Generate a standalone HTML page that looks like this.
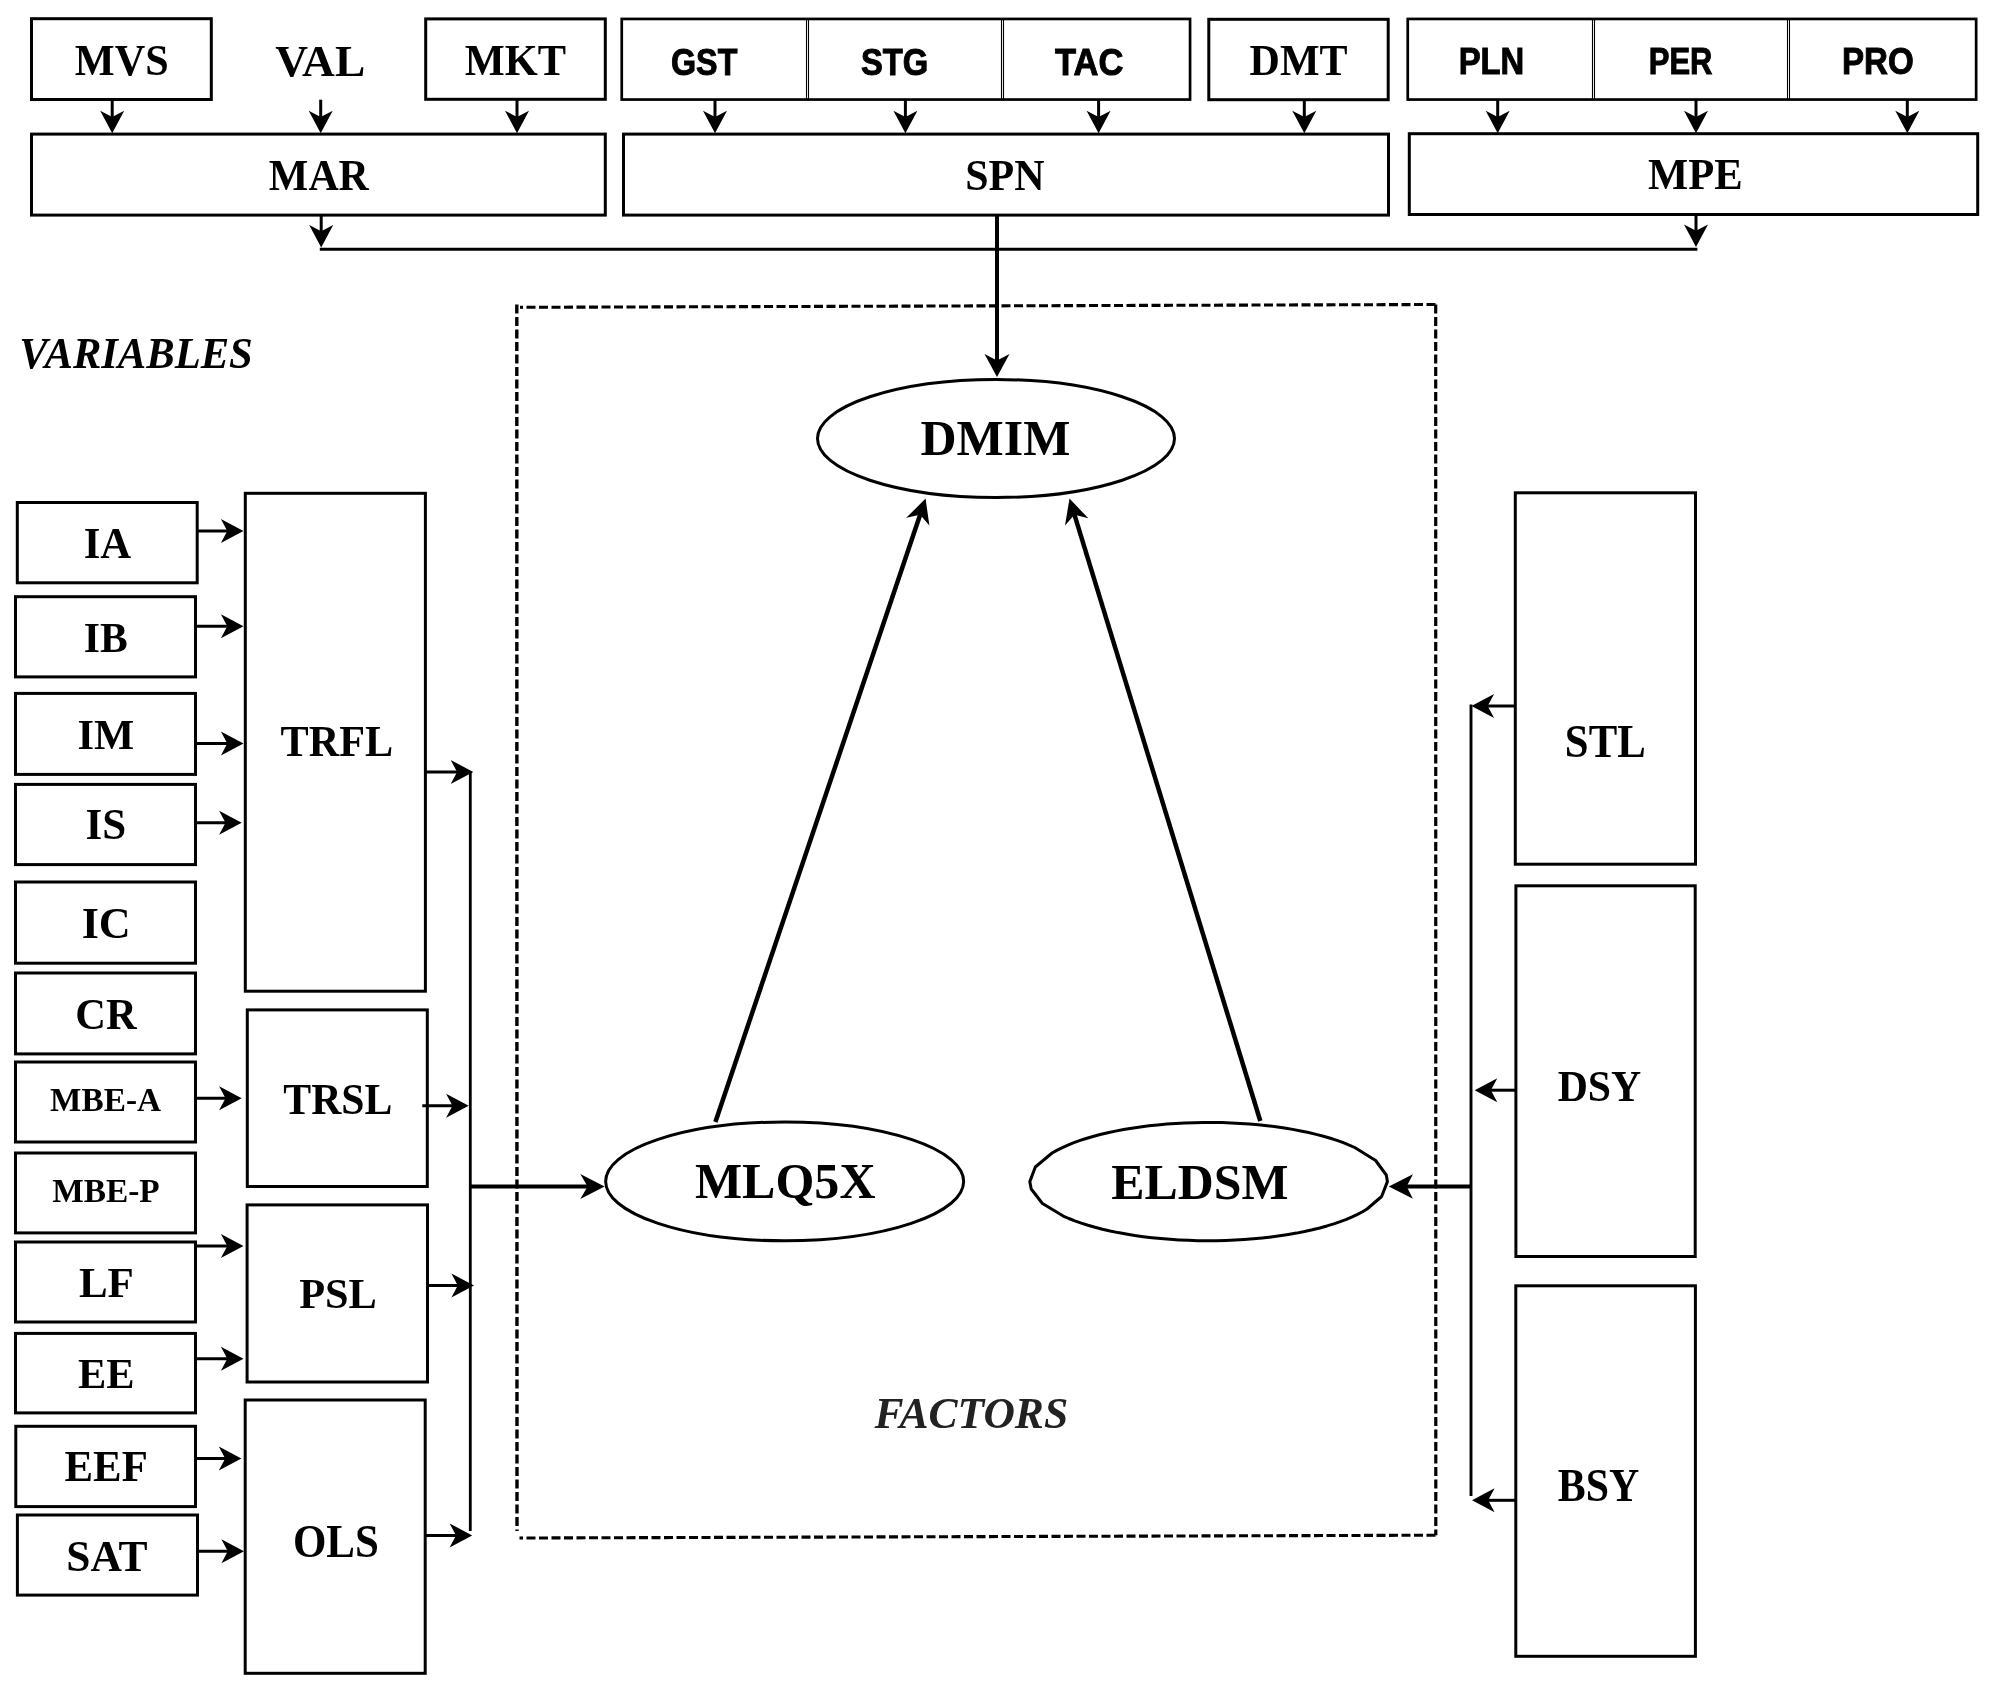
<!DOCTYPE html>
<html><head><meta charset="utf-8"><style>html,body{margin:0;padding:0;background:#fff;overflow:hidden}svg{display:block;will-change:transform}</style></head>
<body><svg width="2001" height="1694" viewBox="0 0 2001 1694">
<rect width="2001" height="1694" fill="#fff"/>
<rect x="31.5" y="18.7" width="179.8" height="80.8" fill="none" stroke="#000" stroke-width="3"/>
<rect x="425.7" y="18.9" width="179.6" height="80.4" fill="none" stroke="#000" stroke-width="3"/>
<rect x="621.75" y="18.95" width="568.3" height="80.6" fill="none" stroke="#000" stroke-width="2.7"/>
<line x1="806.5" y1="19" x2="806.5" y2="99.5" stroke="#000" stroke-width="1.1"/>
<line x1="808.5" y1="19" x2="808.5" y2="99.5" stroke="#000" stroke-width="1.1"/>
<line x1="1001.5" y1="19" x2="1001.5" y2="99.5" stroke="#000" stroke-width="1.1"/>
<line x1="1003.5" y1="19" x2="1003.5" y2="99.5" stroke="#000" stroke-width="1.1"/>
<rect x="1208.8" y="19.3" width="179.4" height="80.4" fill="none" stroke="#000" stroke-width="3"/>
<rect x="1407.75" y="18.95" width="568.4" height="80.6" fill="none" stroke="#000" stroke-width="2.7"/>
<line x1="1592.5" y1="19" x2="1592.5" y2="99.5" stroke="#000" stroke-width="1.1"/>
<line x1="1594.5" y1="19" x2="1594.5" y2="99.5" stroke="#000" stroke-width="1.1"/>
<line x1="1787.5" y1="19" x2="1787.5" y2="99.5" stroke="#000" stroke-width="1.1"/>
<line x1="1789.5" y1="19" x2="1789.5" y2="99.5" stroke="#000" stroke-width="1.1"/>
<rect x="31.5" y="134.1" width="573.8" height="81" fill="none" stroke="#000" stroke-width="3"/>
<rect x="623.5" y="134.1" width="765" height="81" fill="none" stroke="#000" stroke-width="3"/>
<rect x="1409.3" y="133.7" width="568.4" height="80.8" fill="none" stroke="#000" stroke-width="3"/>
<line x1="112.2" y1="100" x2="112.2" y2="120.87" stroke="#000" stroke-width="3"/><path d="M112.2 133.3L100.2 110.7L112.2 117.1L124.2 110.7Z" fill="#000"/>
<line x1="517" y1="100" x2="517" y2="120.87" stroke="#000" stroke-width="3"/><path d="M517 133.3L505 110.7L517 117.1L529 110.7Z" fill="#000"/>
<line x1="715" y1="100" x2="715" y2="120.87" stroke="#000" stroke-width="3"/><path d="M715 133.3L703 110.7L715 117.1L727 110.7Z" fill="#000"/>
<line x1="905.4" y1="100" x2="905.4" y2="120.87" stroke="#000" stroke-width="3"/><path d="M905.4 133.3L893.4 110.7L905.4 117.1L917.4 110.7Z" fill="#000"/>
<line x1="1098.6" y1="100" x2="1098.6" y2="120.87" stroke="#000" stroke-width="3"/><path d="M1098.6 133.3L1086.6 110.7L1098.6 117.1L1110.6 110.7Z" fill="#000"/>
<line x1="1304.3" y1="100" x2="1304.3" y2="120.87" stroke="#000" stroke-width="3"/><path d="M1304.3 133.3L1292.3 110.7L1304.3 117.1L1316.3 110.7Z" fill="#000"/>
<line x1="1497.7" y1="100" x2="1497.7" y2="120.87" stroke="#000" stroke-width="3"/><path d="M1497.7 133.3L1485.7 110.7L1497.7 117.1L1509.7 110.7Z" fill="#000"/>
<line x1="1696" y1="100" x2="1696" y2="120.87" stroke="#000" stroke-width="3"/><path d="M1696 133.3L1684 110.7L1696 117.1L1708 110.7Z" fill="#000"/>
<line x1="1907.3" y1="100" x2="1907.3" y2="120.87" stroke="#000" stroke-width="3"/><path d="M1907.3 133.3L1895.3 110.7L1907.3 117.1L1919.3 110.7Z" fill="#000"/>
<line x1="320.7" y1="99.7" x2="320.7" y2="120.87" stroke="#000" stroke-width="3"/><path d="M320.7 133.3L308.7 110.7L320.7 117.1L332.7 110.7Z" fill="#000"/>
<line x1="321.2" y1="216" x2="321.2" y2="235.07" stroke="#000" stroke-width="3"/><path d="M321.2 247.5L309.2 224.9L321.2 231.3L333.2 224.9Z" fill="#000"/>
<line x1="1696" y1="215.5" x2="1696" y2="234.57" stroke="#000" stroke-width="3"/><path d="M1696 247L1684 224.4L1696 230.8L1708 224.4Z" fill="#000"/>
<line x1="319.8" y1="249.3" x2="1697.4" y2="249.3" stroke="#000" stroke-width="2.9"/>
<line x1="997" y1="215.5" x2="997" y2="364.35" stroke="#000" stroke-width="4"/><path d="M997 377L984.5 354L997 360.5L1009.5 354Z" fill="#000"/>
<path d="M516.8 304.5L517 1531" stroke-width="3.4" stroke-dasharray="9 3.5" fill="none" stroke="#000"/>
<path d="M526.5 307.3L1435.7 304.5" stroke-width="3.1" stroke-dasharray="9 3.5" fill="none" stroke="#000"/>
<path d="M520 307.3L523 307.3" stroke-width="3.1" fill="none" stroke="#000"/>
<path d="M1435.7 304.5L1435.8 1535.2" stroke-width="3.2" stroke-dasharray="9 3.5" fill="none" stroke="#000"/>
<path d="M526.5 1538L1435.8 1535.2" stroke-width="3.1" stroke-dasharray="9 3.5" fill="none" stroke="#000"/>
<path d="M519.5 1538L523 1538" stroke-width="3.1" fill="none" stroke="#000"/>
<ellipse cx="996" cy="438.5" rx="178.5" ry="59" fill="none" stroke="#000" stroke-width="3"/>
<ellipse cx="784.65" cy="1181.4" rx="179" ry="59.4" fill="none" stroke="#000" stroke-width="3"/>
<polygon points="1367.05,1209 1381.63,1196.51 1387.4,1181.6 1386.29,1175.01 1375.64,1160.5 1354.71,1147.5 1349.17,1145.04 1343.25,1142.68 1336.97,1140.43 1330.34,1138.28 1323.39,1136.25 1316.13,1134.34 1308.58,1132.56 1300.76,1130.91 1292.69,1129.4 1284.4,1128.03 1275.9,1126.8 1267.22,1125.72 1258.38,1124.79 1249.41,1124.01 1240.33,1123.39 1231.17,1122.92 1221.94,1122.61 1212.68,1122.47 1203.41,1122.47 1194.15,1122.64 1184.93,1122.97 1175.77,1123.46 1166.7,1124.1 1157.75,1124.89 1148.93,1125.84 1140.27,1126.94 1131.8,1128.18 1123.53,1129.57 1115.49,1131.1 1107.7,1132.77 1100.19,1134.56 1092.96,1136.49 1086.05,1138.53 1079.46,1140.69 1073.22,1142.96 1067.35,1145.33 1061.86,1147.81 1056.76,1150.37 1052.07,1153.01 1035.34,1166.99 1029.8,1181.6 1031.21,1189.01 1042.47,1203.47 1063.22,1216.03 1068.85,1218.5 1074.87,1220.86 1081.26,1223.12 1087.99,1225.27 1095.05,1227.29 1102.42,1229.19 1110.08,1230.96 1118.01,1232.6 1126.19,1234.09 1134.59,1235.45 1143.2,1236.65 1151.98,1237.71 1160.92,1238.61 1169.99,1239.35 1179.16,1239.94 1188.41,1240.37 1197.72,1240.64 1207.06,1240.75 1216.41,1240.69 1225.73,1240.48 1235,1240.1 1244.21,1239.57 1253.31,1238.87 1262.3,1238.02 1271.13,1237.01 1279.8,1235.86 1288.27,1234.55 1296.53,1233.1 1304.54,1231.51 1312.29,1229.79 1319.76,1227.93 1326.93,1225.94 1333.77,1223.84 1340.27,1221.62 1346.41,1219.29 1352.17,1216.85 1357.54,1214.32 1362.51,1211.71 1367.05,1209" fill="none" stroke="#000" stroke-width="3" stroke-linejoin="round"/>
<line x1="715.4" y1="1122" x2="921.31" y2="511.32" stroke="#000" stroke-width="4.5"/><path d="M925.6 498.6L929.36 525.62L920.17 514.71L906.24 517.82Z" fill="#000"/>
<line x1="1260.3" y1="1121" x2="1073.43" y2="511.43" stroke="#000" stroke-width="4.5"/><path d="M1069.5 498.6L1088.32 518.35L1074.48 514.85L1064.99 525.5Z" fill="#000"/>
<rect x="17.3" y="502.5" width="179.9" height="80.3" fill="none" stroke="#000" stroke-width="3"/>
<rect x="15.5" y="596.7" width="180" height="80.2" fill="none" stroke="#000" stroke-width="3"/>
<rect x="15.5" y="693.4" width="180" height="81" fill="none" stroke="#000" stroke-width="3"/>
<rect x="15.5" y="784.4" width="180" height="80.2" fill="none" stroke="#000" stroke-width="3"/>
<rect x="15.5" y="882" width="180" height="81.2" fill="none" stroke="#000" stroke-width="3"/>
<rect x="15.5" y="973" width="180" height="80.9" fill="none" stroke="#000" stroke-width="3"/>
<rect x="15.5" y="1062" width="180" height="80" fill="none" stroke="#000" stroke-width="3"/>
<rect x="15.5" y="1153" width="180" height="79.9" fill="none" stroke="#000" stroke-width="3"/>
<rect x="15.5" y="1242" width="180" height="80" fill="none" stroke="#000" stroke-width="3"/>
<rect x="15.5" y="1333.4" width="180" height="79.5" fill="none" stroke="#000" stroke-width="3"/>
<rect x="15.8" y="1426.3" width="179.7" height="80.3" fill="none" stroke="#000" stroke-width="3"/>
<rect x="17.4" y="1515" width="180.1" height="80.1" fill="none" stroke="#000" stroke-width="3"/>
<line x1="197" y1="531" x2="231.07" y2="531" stroke="#000" stroke-width="3"/><path d="M243.5 531L220.9 543L227.3 531L220.9 519Z" fill="#000"/>
<line x1="196" y1="626.2" x2="231.07" y2="626.2" stroke="#000" stroke-width="3"/><path d="M243.5 626.2L220.9 638.2L227.3 626.2L220.9 614.2Z" fill="#000"/>
<line x1="196" y1="743.4" x2="231.07" y2="743.4" stroke="#000" stroke-width="3"/><path d="M243.5 743.4L220.9 755.4L227.3 743.4L220.9 731.4Z" fill="#000"/>
<line x1="196" y1="822.7" x2="229.27" y2="822.7" stroke="#000" stroke-width="3"/><path d="M241.7 822.7L219.1 834.7L225.5 822.7L219.1 810.7Z" fill="#000"/>
<line x1="196" y1="1098.3" x2="229.27" y2="1098.3" stroke="#000" stroke-width="3"/><path d="M241.7 1098.3L219.1 1110.3L225.5 1098.3L219.1 1086.3Z" fill="#000"/>
<line x1="196" y1="1246.1" x2="231.07" y2="1246.1" stroke="#000" stroke-width="3"/><path d="M243.5 1246.1L220.9 1258.1L227.3 1246.1L220.9 1234.1Z" fill="#000"/>
<line x1="196" y1="1358.7" x2="231.07" y2="1358.7" stroke="#000" stroke-width="3"/><path d="M243.5 1358.7L220.9 1370.7L227.3 1358.7L220.9 1346.7Z" fill="#000"/>
<line x1="196" y1="1458.6" x2="228.97" y2="1458.6" stroke="#000" stroke-width="3"/><path d="M241.4 1458.6L218.8 1470.6L225.2 1458.6L218.8 1446.6Z" fill="#000"/>
<line x1="198" y1="1551.3" x2="231.57" y2="1551.3" stroke="#000" stroke-width="3"/><path d="M244 1551.3L221.4 1563.3L227.8 1551.3L221.4 1539.3Z" fill="#000"/>
<rect x="245.3" y="493.3" width="180.1" height="497.9" fill="none" stroke="#000" stroke-width="3"/>
<rect x="247.3" y="1009.9" width="180" height="176.6" fill="none" stroke="#000" stroke-width="3"/>
<rect x="247.1" y="1204.9" width="180.4" height="177.1" fill="none" stroke="#000" stroke-width="3"/>
<rect x="245.2" y="1400" width="180" height="273.3" fill="none" stroke="#000" stroke-width="3"/>
<line x1="426" y1="772" x2="460.87" y2="772" stroke="#000" stroke-width="3"/><path d="M473.3 772L450.7 784L457.1 772L450.7 760Z" fill="#000"/>
<line x1="422.3" y1="1105.8" x2="456.27" y2="1105.8" stroke="#000" stroke-width="3"/><path d="M468.7 1105.8L446.1 1117.8L452.5 1105.8L446.1 1093.8Z" fill="#000"/>
<line x1="428" y1="1285.6" x2="461.57" y2="1285.6" stroke="#000" stroke-width="3"/><path d="M474 1285.6L451.4 1297.6L457.8 1285.6L451.4 1273.6Z" fill="#000"/>
<line x1="426" y1="1535.4" x2="459.77" y2="1535.4" stroke="#000" stroke-width="3"/><path d="M472.2 1535.4L449.6 1547.4L456 1535.4L449.6 1523.4Z" fill="#000"/>
<line x1="470.3" y1="772" x2="470.3" y2="1531" stroke="#000" stroke-width="2.8"/>
<line x1="470.3" y1="1186.4" x2="591.24" y2="1186.4" stroke="#000" stroke-width="4"/><path d="M604.6 1186.4L580.3 1198.9L587.6 1186.4L580.3 1173.9Z" fill="#000"/>
<rect x="1515.3" y="492.8" width="180.2" height="371.4" fill="none" stroke="#000" stroke-width="3"/>
<rect x="1515.9" y="885.8" width="179.3" height="370.7" fill="none" stroke="#000" stroke-width="3"/>
<rect x="1515.8" y="1285.8" width="179.6" height="370.5" fill="none" stroke="#000" stroke-width="3"/>
<line x1="1515" y1="706" x2="1483.93" y2="706" stroke="#000" stroke-width="3"/><path d="M1471.5 706L1494.1 694L1487.7 706L1494.1 718Z" fill="#000"/>
<line x1="1515" y1="1090.2" x2="1487.13" y2="1090.2" stroke="#000" stroke-width="3"/><path d="M1474.7 1090.2L1497.3 1078.2L1490.9 1090.2L1497.3 1102.2Z" fill="#000"/>
<line x1="1515" y1="1500.3" x2="1484.43" y2="1500.3" stroke="#000" stroke-width="3"/><path d="M1472 1500.3L1494.6 1488.3L1488.2 1500.3L1494.6 1512.3Z" fill="#000"/>
<line x1="1471" y1="704.6" x2="1471" y2="1496" stroke="#000" stroke-width="2.9"/>
<line x1="1471" y1="1186.5" x2="1402.06" y2="1186.5" stroke="#000" stroke-width="4"/><path d="M1388.8 1186.5L1412.9 1174.3L1406.7 1186.5L1412.9 1198.7Z" fill="#000"/>
<text transform="matrix(0.4227 0 0 0.4477 74.75 74.70)" font-family="Liberation Serif" font-weight="bold" font-style="normal" font-size="100" fill="#000">MVS</text>
<text transform="matrix(0.4544 0 0 0.4523 275.15 75.60)" font-family="Liberation Serif" font-weight="bold" font-style="normal" font-size="100" fill="#000">VAL</text>
<text transform="matrix(0.4243 0 0 0.4415 464.65 74.50)" font-family="Liberation Serif" font-weight="bold" font-style="normal" font-size="100" fill="#000">MKT</text>
<text transform="matrix(0.4200 0 0 0.4492 1249.56 75.00)" font-family="Liberation Serif" font-weight="bold" font-style="normal" font-size="100" fill="#000">DMT</text>
<text transform="matrix(0.4189 0 0 0.4415 268.86 190.30)" font-family="Liberation Serif" font-weight="bold" font-style="normal" font-size="100" fill="#000">MAR</text>
<text transform="matrix(0.4197 0 0 0.4508 965.20 190.30)" font-family="Liberation Serif" font-weight="bold" font-style="normal" font-size="100" fill="#000">SPN</text>
<text transform="matrix(0.4265 0 0 0.4354 1647.95 189.30)" font-family="Liberation Serif" font-weight="bold" font-style="normal" font-size="100" fill="#000">MPE</text>
<text transform="matrix(0.5003 0 0 0.5077 920.40 455.00)" font-family="Liberation Serif" font-weight="bold" font-style="normal" font-size="100" fill="#000">DMIM</text>
<text transform="matrix(0.5003 0 0 0.5062 694.90 1197.90)" font-family="Liberation Serif" font-weight="bold" font-style="normal" font-size="100" fill="#000">MLQ5X</text>
<text transform="matrix(0.4983 0 0 0.5169 1111.30 1199.20)" font-family="Liberation Serif" font-weight="bold" font-style="normal" font-size="100" fill="#000">ELDSM</text>
<text transform="matrix(0.4280 0 0 0.4431 83.72 558.10)" font-family="Liberation Serif" font-weight="bold" font-style="normal" font-size="100" fill="#000">IA</text>
<text transform="matrix(0.4160 0 0 0.4277 83.75 651.80)" font-family="Liberation Serif" font-weight="bold" font-style="normal" font-size="100" fill="#000">IB</text>
<text transform="matrix(0.4260 0 0 0.4323 77.52 749.00)" font-family="Liberation Serif" font-weight="bold" font-style="normal" font-size="100" fill="#000">IM</text>
<text transform="matrix(0.4310 0 0 0.4492 85.51 839.20)" font-family="Liberation Serif" font-weight="bold" font-style="normal" font-size="100" fill="#000">IS</text>
<text transform="matrix(0.4416 0 0 0.4477 81.68 938.30)" font-family="Liberation Serif" font-weight="bold" font-style="normal" font-size="100" fill="#000">IC</text>
<text transform="matrix(0.4250 0 0 0.4477 75.28 1028.50)" font-family="Liberation Serif" font-weight="bold" font-style="normal" font-size="100" fill="#000">CR</text>
<text transform="matrix(0.3330 0 0 0.3292 50.03 1110.90)" font-family="Liberation Serif" font-weight="bold" font-style="normal" font-size="100" fill="#000">MBE-A</text>
<text transform="matrix(0.3338 0 0 0.3354 52.13 1201.80)" font-family="Liberation Serif" font-weight="bold" font-style="normal" font-size="100" fill="#000">MBE-P</text>
<text transform="matrix(0.4298 0 0 0.4308 78.94 1297.20)" font-family="Liberation Serif" font-weight="bold" font-style="normal" font-size="100" fill="#000">LF</text>
<text transform="matrix(0.4238 0 0 0.4308 77.95 1388.10)" font-family="Liberation Serif" font-weight="bold" font-style="normal" font-size="100" fill="#000">EE</text>
<text transform="matrix(0.4282 0 0 0.4385 64.54 1481.30)" font-family="Liberation Serif" font-weight="bold" font-style="normal" font-size="100" fill="#000">EEF</text>
<text transform="matrix(0.4354 0 0 0.4523 66.22 1571.00)" font-family="Liberation Serif" font-weight="bold" font-style="normal" font-size="100" fill="#000">SAT</text>
<text transform="matrix(0.4219 0 0 0.4338 280.56 756.40)" font-family="Liberation Serif" font-weight="bold" font-style="normal" font-size="100" fill="#000">TRFL</text>
<text transform="matrix(0.4176 0 0 0.4323 283.36 1114.00)" font-family="Liberation Serif" font-weight="bold" font-style="normal" font-size="100" fill="#000">TRSL</text>
<text transform="matrix(0.4237 0 0 0.4308 299.15 1308.00)" font-family="Liberation Serif" font-weight="bold" font-style="normal" font-size="100" fill="#000">PSL</text>
<text transform="matrix(0.4298 0 0 0.4569 292.95 1557.10)" font-family="Liberation Serif" font-weight="bold" font-style="normal" font-size="100" fill="#000">OLS</text>
<text transform="matrix(0.4278 0 0 0.4662 1564.86 756.80)" font-family="Liberation Serif" font-weight="bold" font-style="normal" font-size="100" fill="#000">STL</text>
<text transform="matrix(0.4179 0 0 0.4400 1557.66 1100.60)" font-family="Liberation Serif" font-weight="bold" font-style="normal" font-size="100" fill="#000">DSY</text>
<text transform="matrix(0.4183 0 0 0.4538 1557.76 1500.80)" font-family="Liberation Serif" font-weight="bold" font-style="normal" font-size="100" fill="#000">BSY</text>
<text transform="matrix(0.4260 0 0 0.4523 19.24 368.40)" font-family="Liberation Serif" font-weight="bold" font-style="italic" font-size="100" fill="#000">VARIABLES</text>
<text transform="matrix(0.4357 0 0 0.4354 874.40 1427.70)" font-family="Liberation Serif" font-weight="bold" font-style="italic" font-size="100" fill="#222">FACTORS</text>
<text transform="matrix(0.3227 0 0 0.3718 671.03 74.73)" font-family="Liberation Sans" font-weight="bold" font-style="normal" font-size="100" fill="#000" stroke="#000" stroke-width="2.6">GST</text>
<text transform="matrix(0.3275 0 0 0.3718 860.97 74.73)" font-family="Liberation Sans" font-weight="bold" font-style="normal" font-size="100" fill="#000" stroke="#000" stroke-width="2.6">STG</text>
<text transform="matrix(0.3452 0 0 0.3761 1055.00 74.62)" font-family="Liberation Sans" font-weight="bold" font-style="normal" font-size="100" fill="#000" stroke="#000" stroke-width="2.6">TAC</text>
<text transform="matrix(0.3284 0 0 0.3662 1458.66 73.53)" font-family="Liberation Sans" font-weight="bold" font-style="normal" font-size="100" fill="#000" stroke="#000" stroke-width="2.6">PLN</text>
<text transform="matrix(0.3100 0 0 0.3662 1648.75 73.53)" font-family="Liberation Sans" font-weight="bold" font-style="normal" font-size="100" fill="#000" stroke="#000" stroke-width="2.6">PER</text>
<text transform="matrix(0.3311 0 0 0.3746 1842.04 73.63)" font-family="Liberation Sans" font-weight="bold" font-style="normal" font-size="100" fill="#000" stroke="#000" stroke-width="2.6">PRO</text>
</svg></body></html>
